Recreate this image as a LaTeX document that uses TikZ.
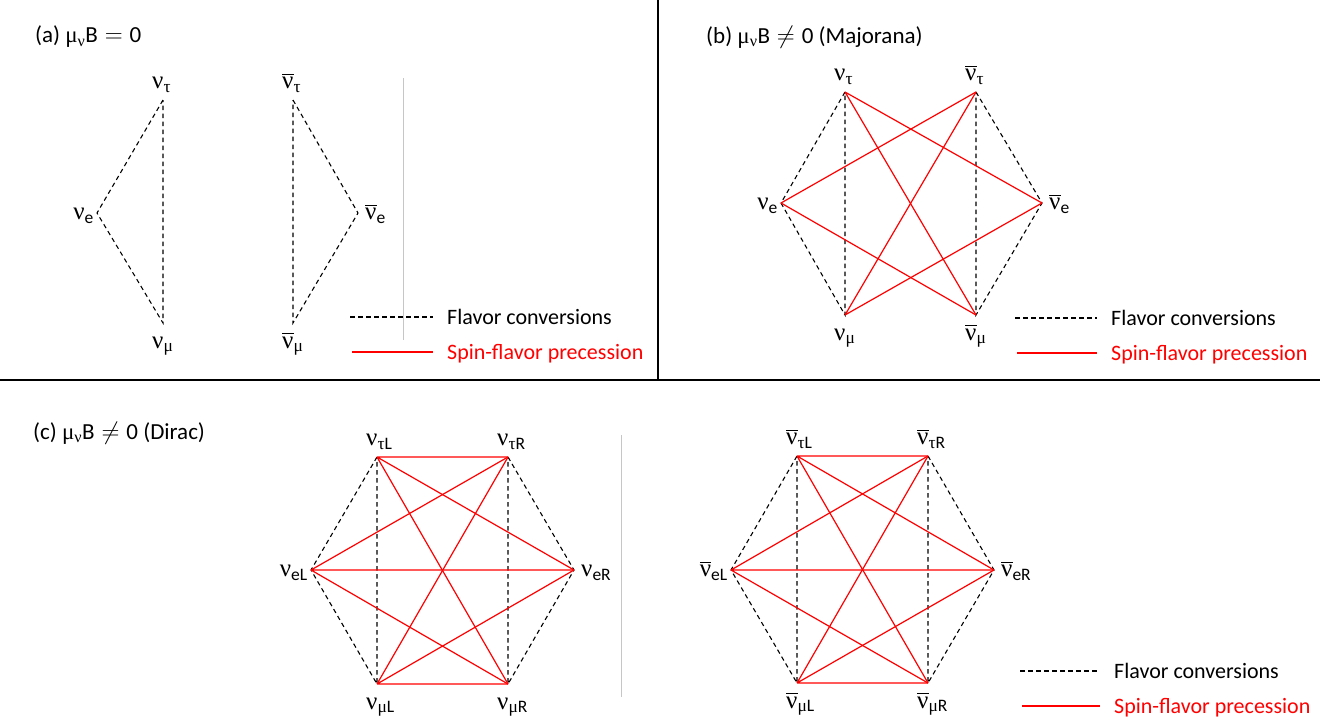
\documentclass[tikz,border=0pt]{standalone}
\usepackage{fontspec}
\setmainfont{Carlito}
\newfontfamily\grk{Liberation Serif}
\usetikzlibrary{positioning}

\newcommand{\gk}[1]{{\grk #1}}
\newcommand{\nuf}[1]{\gk{ν}\textsubscript{#1}}
\newcommand{\nubf}[1]{\vbox{\hrule height 1pt\kern2.5pt\hbox{\gk{ν}}}\textsubscript{#1}}

\begin{document}
\begin{tikzpicture}[
  x=1pt,y=-1pt,
  lbl/.style={font=\fontsize{25}{29}\selectfont,inner sep=0pt,text height=19pt,text depth=6pt},
  labup/.style={lbl,above=5pt of #1,anchor=south west,xshift=-11pt},
  labdn/.style={lbl,below=6pt of #1,anchor=north west,xshift=-11pt},
  lablt/.style={lbl,left=3pt of #1},
  labrt/.style={lbl,right=7pt of #1},
  flav/.style={dash pattern=on 4.5pt off 3.5pt,line width=1.1pt},
  sfp/.style={red,line width=1.2pt},
  ttl/.style={anchor=west,font=\fontsize{23}{27}\selectfont,inner sep=0pt},
  key/.style={font=\fontsize{22}{26}\selectfont,inner sep=0pt,anchor=base west,yshift=-7pt},
  sep/.style={gray!45,line width=1pt},
  frame/.style={line width=2pt}
]
\useasboundingbox (0,0) rectangle (1343,726);

% panel borders
\draw[frame] (658,0) -- (658,380);
\draw[frame] (0,380) -- (1320,380);

% (a) no magnetic moment
\node[ttl] (ta) at (35,37) {(a) \gk{μ}\textsubscript{\gk{ν}}B${}={}$0};
\coordinate (at) at (163,100);
\coordinate (ae) at (97,213);
\coordinate (am) at (163,323);
\coordinate (abt) at (293,100);
\coordinate (abe) at (358,213);
\coordinate (abm) at (293,323);
\node[labup=at] (lat) {\nuf{\gk{τ}}};
\node[lablt=ae] (lae) {\nuf{e}};
\node[labdn=am] (lam) {\nuf{\gk{μ}}};
\node[labup=abt] (labt) {\nubf{\gk{τ}}};
\node[labrt=abe] (labe) {\nubf{e}};
\node[labdn=abm] (labm) {\nubf{\gk{μ}}};
\draw[flav] (at) -- (ae) -- (am) -- (at);
\draw[flav] (abt) -- (abe) -- (abm) -- (abt);
\draw[sep] (403,78) -- (403,340);
\coordinate (fa1) at (350,317);
\coordinate (fa2) at (433,317);
\coordinate (sa1) at (352,352);
\coordinate (sa2) at (433,352);
\draw[flav] (fa1) -- (fa2);
\draw[sfp] (sa1) -- (sa2);
\node[right=14pt of fa2,key] (kfa) {Flavor conversions};
\node[right=14pt of sa2,key,red] (ksa) {Spin-flavor precession};

% (b) Majorana
\node[ttl] (tb) at (706,37) {(b) \gk{μ}\textsubscript{\gk{ν}}B${}\neq{}$0 (Majorana)};
\coordinate (bt) at (845,92);
\coordinate (be) at (781,203);
\coordinate (bm) at (845,315);
\coordinate (bbt) at (976,92);
\coordinate (bbe) at (1042,203);
\coordinate (bbm) at (976,315);
\node[labup=bt] (lbt) {\nuf{\gk{τ}}};
\node[lablt=be] (lbe) {\nuf{e}};
\node[labdn=bm] (lbm) {\nuf{\gk{μ}}};
\node[labup=bbt] (lbbt) {\nubf{\gk{τ}}};
\node[labrt=bbe] (lbbe) {\nubf{e}};
\node[labdn=bbm] (lbbm) {\nubf{\gk{μ}}};
\draw[flav] (bt) -- (be) -- (bm) -- (bt);
\draw[flav] (bbt) -- (bbe) -- (bbm) -- (bbt);
\draw[sfp] (bt) -- (bbe) (bt) -- (bbm);
\draw[sfp] (be) -- (bbt) (be) -- (bbm);
\draw[sfp] (bm) -- (bbt) (bm) -- (bbe);
\coordinate (fb1) at (1015,318);
\coordinate (fb2) at (1097,318);
\coordinate (sb1) at (1017,353);
\coordinate (sb2) at (1097,353);
\draw[flav] (fb1) -- (fb2);
\draw[sfp] (sb1) -- (sb2);
\node[right=14pt of fb2,key] (kfb) {Flavor conversions};
\node[right=14pt of sb2,key,red] (ksb) {Spin-flavor precession};

% (c) Dirac, neutrinos
\node[ttl] (tc) at (33,433) {(c) \gk{μ}\textsubscript{\gk{ν}}B${}\neq{}$0 (Dirac)};
\coordinate (ctl) at (377,457);
\coordinate (ctr) at (508,457);
\coordinate (cer) at (574,570);
\coordinate (cmr) at (508,684);
\coordinate (cml) at (377,684);
\coordinate (cel) at (311,570);
\node[labup=ctl] (lctl) {\nuf{\gk{τ}L}};
\node[labup=ctr] (lctr) {\nuf{\gk{τ}R}};
\node[labrt=cer] (lcer) {\nuf{eR}};
\node[labdn=cmr] (lcmr) {\nuf{\gk{μ}R}};
\node[labdn=cml] (lcml) {\nuf{\gk{μ}L}};
\node[lablt=cel] (lcel) {\nuf{eL}};
\draw[flav] (ctl) -- (cel) -- (cml) -- (ctl);
\draw[flav] (ctr) -- (cer) -- (cmr) -- (ctr);
\draw[sfp] (ctl) -- (ctr) (ctl) -- (cer) (ctl) -- (cmr);
\draw[sfp] (cel) -- (ctr) (cel) -- (cer) (cel) -- (cmr);
\draw[sfp] (cml) -- (ctr) (cml) -- (cer) (cml) -- (cmr);
\draw[sep] (621,435) -- (621,697);

% (c) Dirac, antineutrinos
\coordinate (dtl) at (797,456);
\coordinate (dtr) at (928,456);
\coordinate (der) at (994,570);
\coordinate (dmr) at (928,683);
\coordinate (dml) at (797,683);
\coordinate (del) at (731,570);
\node[labup=dtl] (ldtl) {\nubf{\gk{τ}L}};
\node[labup=dtr] (ldtr) {\nubf{\gk{τ}R}};
\node[labrt=der] (lder) {\nubf{eR}};
\node[labdn=dmr] (ldmr) {\nubf{\gk{μ}R}};
\node[labdn=dml] (ldml) {\nubf{\gk{μ}L}};
\node[lablt=del] (ldel) {\nubf{eL}};
\draw[flav] (dtl) -- (del) -- (dml) -- (dtl);
\draw[flav] (dtr) -- (der) -- (dmr) -- (dtr);
\draw[sfp] (dtl) -- (dtr) (dtl) -- (der) (dtl) -- (dmr);
\draw[sfp] (del) -- (dtr) (del) -- (der) (del) -- (dmr);
\draw[sfp] (dml) -- (dtr) (dml) -- (der) (dml) -- (dmr);
\coordinate (fc1) at (1020,671);
\coordinate (fc2) at (1100,671);
\coordinate (sc1) at (1022,706);
\coordinate (sc2) at (1100,706);
\draw[flav] (fc1) -- (fc2);
\draw[sfp] (sc1) -- (sc2);
\node[right=14pt of fc2,key] (kfc) {Flavor conversions};
\node[right=14pt of sc2,key,red] (ksc) {Spin-flavor precession};
\end{tikzpicture}
\end{document}
